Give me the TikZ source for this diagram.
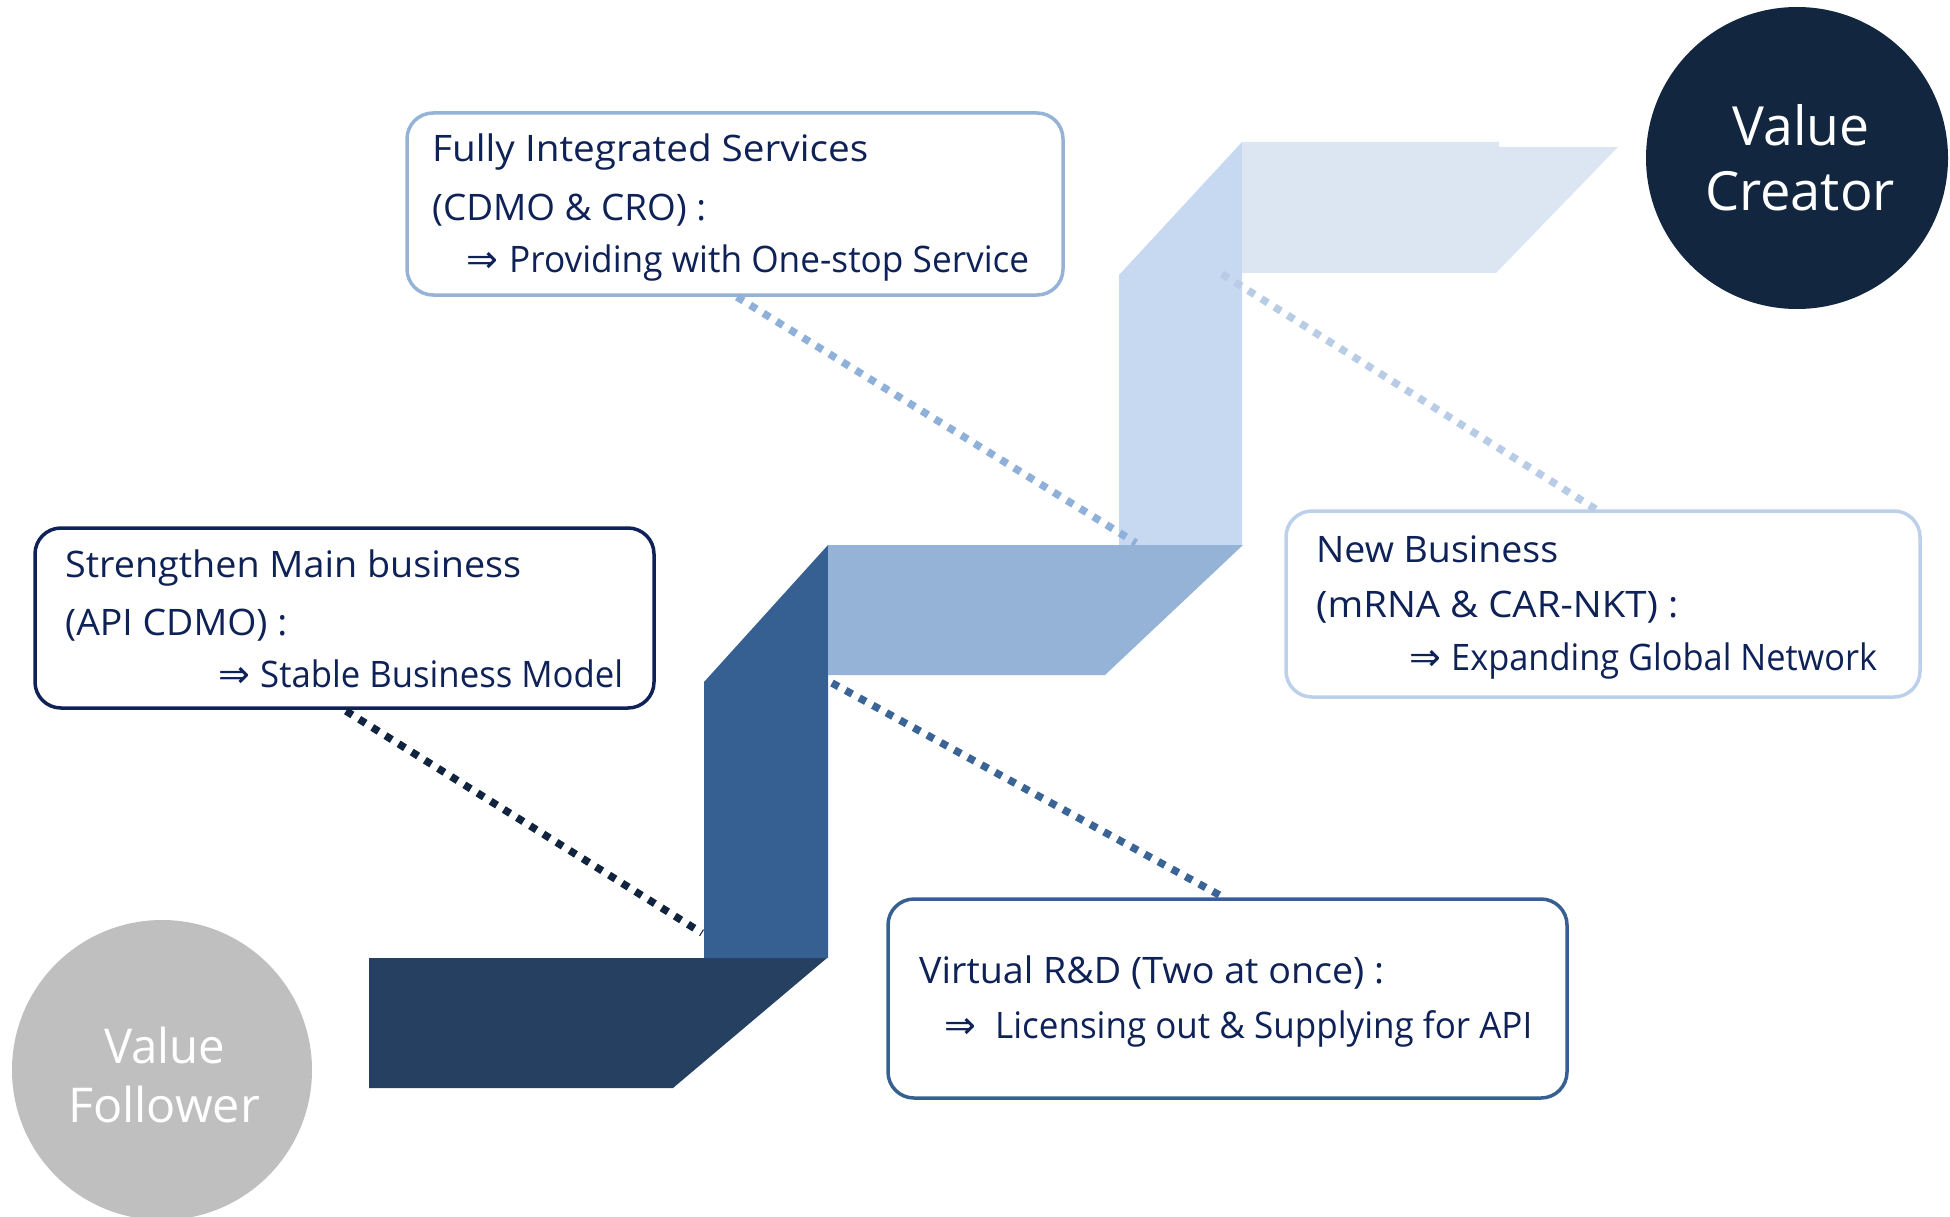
\documentclass[tikz,border=0pt]{standalone}
\usepackage{graphicx}
\usepackage{fontspec}
\setmainfont{Open Sans}
\newfontfamily\arrowfont{DejaVu Sans}
\definecolor{creatorc}{HTML}{13263F}
\definecolor{followc}{HTML}{BFBFBF}
\definecolor{shdark}{HTML}{254061}
\definecolor{shmed}{HTML}{376092}
\definecolor{shlight}{HTML}{95B3D7}
\definecolor{shlighter}{HTML}{C6D9F1}
\definecolor{shlightest}{HTML}{DCE6F2}
\definecolor{txtc}{HTML}{0F2257}
\definecolor{bfis}{HTML}{95B3D7}
\definecolor{bnew}{HTML}{BDD0E9}
\definecolor{bvir}{HTML}{376092}
\definecolor{bstr}{HTML}{0F2257}
\definecolor{dfis}{HTML}{8EB0D9}
\definecolor{dnew}{HTML}{B8CCE6}
\definecolor{dstr}{HTML}{10243F}
\definecolor{dvir}{HTML}{3A6496}
\newlength\tmpw
% set #2 scaled horizontally so that its width is #1 pt
\newcommand\fitw[2]{\settowidth\tmpw{#2}\pgfmathsetmacro\sfac{#1/\tmpw}\scalebox{\sfac}[1]{#2}}
\begin{document}
\begin{tikzpicture}[x=1pt,y=-1pt,
  boxst/.style={draw, line width=3.5pt, rounded corners=26pt, fill=white, inner sep=0pt},
  circst/.style={circle, inner sep=0pt},
  dotst/.style={line width=7.5pt, dash pattern=on 7.5pt off 8pt},
  boxtext/.style={anchor=base west, inner sep=0pt, text=txtc, font=\fontsize{36.5pt}{36.5pt}\selectfont},
  arrowst/.style={anchor=base west, inner sep=0pt, text=txtc, font=\arrowfont\fontsize{38pt}{38pt}\selectfont},
  creatortext/.style={anchor=base, inner sep=0pt, text=white, font=\fontsize{54pt}{54pt}\selectfont},
  followtext/.style={anchor=base, inner sep=0pt, text=white, font=\fontsize{48pt}{48pt}\selectfont}
]
\useasboundingbox (0,0) rectangle (1950,1217);
\clip (0,0) rectangle (1950,1217);

% circles
\node[circst, fill=creatorc, minimum size=302pt] (creator) at (1797,158) {};
\node[circst, fill=followc, minimum size=300pt] (follower) at (162,1070) {};

% staircase shapes
\fill[shdark] (369,958) -- (827,958) -- (673,1088) -- (369,1088) -- cycle;
\fill[shmed] (704,958) -- (704,682) -- (828,545) -- (828,958) -- cycle;
\fill[shlighter] (1119,545) -- (1119,275) -- (1242,142) -- (1242,545) -- cycle;
\fill[shlight] (828,545) -- (1243,545) -- (1105,675) -- (828,675) -- cycle;
\fill[shlightest] (1242,142) -- (1499,142) -- (1499,147) -- (1618,147) -- (1496,273) -- (1242,273) -- cycle;

% boxes
\node[boxst, draw=bfis, minimum width=656pt, minimum height=182pt] (fis) at (735,204) {};
\node[boxst, draw=bstr, minimum width=619pt, minimum height=180pt] (str) at (344.5,618) {};
\node[boxst, draw=bnew, minimum width=634pt, minimum height=186pt] (new) at (1603,604) {};
\node[boxst, draw=bvir, minimum width=679pt, minimum height=199pt] (vir) at (1227.5,998.5) {};

% connector end points
\coordinate (l1s) at (737,297);
\coordinate (l1e) at (1136,543);
\coordinate (l2s) at (1222,274);
\coordinate (l2e) at (1597,510);
\coordinate (l3s) at (346,711);
\coordinate (l3e) at (702,933);
\coordinate (l4s) at (832,683);
\coordinate (l4e) at (1223,897);

\draw[dotst, draw=dfis] (l1s) -- (l1e);
\draw[dotst, draw=dnew] (l2s) -- (l2e);
\draw[dotst, draw=dstr] (l3s) -- (l3e);
\draw[dotst, draw=dvir] (l4s) -- (l4e);

% circle texts
\node[creatortext] (cr1) at (1801,146) {\fitw{137}{Value}};
\node[creatortext] (cr2) at (1800,211) {\fitw{190}{Creator}};
\node[followtext] (fo1) at (164.5,1063) {\fitw{121}{Value}};
\node[followtext] (fo2) at (164,1122) {\fitw{192}{Follower}};

% box texts
\node[boxtext] (fis1) at (432,162) {\fitw{436}{Fully Integrated Services}};
\node[boxtext] (fis2) at (432,220) {\fitw{274}{(CDMO \& CRO) :}};
\node[arrowst] (fisa) at (466,272) {⇒};
\node[boxtext] (fis3) at (509,272) {\fitw{520}{Providing with One-stop Service}};

\node[boxtext] (str1) at (65,577) {\fitw{456}{Strengthen Main business}};
\node[boxtext] (str2) at (65,635) {\fitw{222}{(API CDMO) :}};
\node[arrowst] (stra) at (218,687) {⇒};
\node[boxtext] (str3) at (260,687) {\fitw{363}{Stable Business Model}};

\node[boxtext] (new1) at (1316,562) {\fitw{242}{New Business}};
\node[boxtext] (new2) at (1316,617) {\fitw{362}{(mRNA \& CAR-NKT) :}};
\node[arrowst] (newa) at (1409,670) {⇒};
\node[boxtext] (new3) at (1451,670) {\fitw{426}{Expanding Global Network}};

\node[boxtext] (vir1) at (919,983) {\fitw{465}{Virtual R\&D (Two at once) :}};
\node[arrowst] (vira) at (944,1038) {⇒};
\node[boxtext] (vir2) at (995,1038) {\fitw{537}{Licensing out \& Supplying for API}};
\end{tikzpicture}
\end{document}
